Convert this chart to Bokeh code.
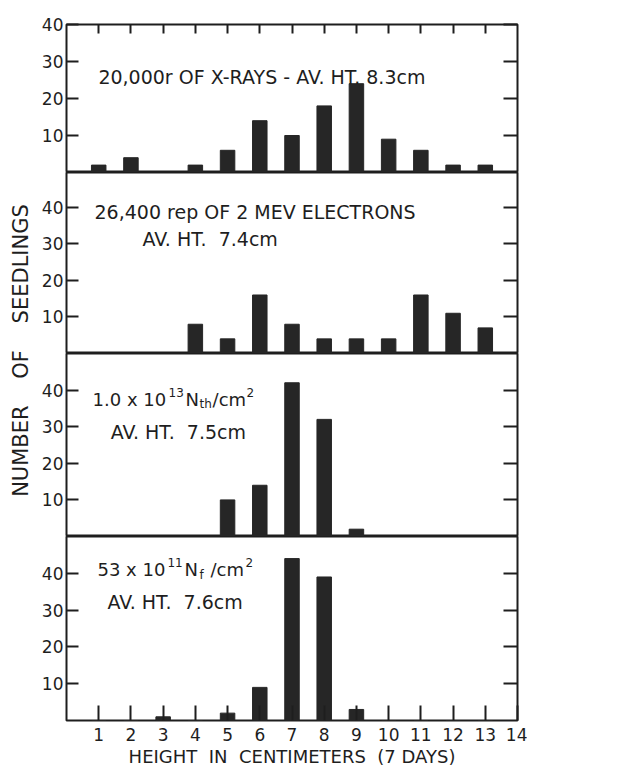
import math
from bokeh.plotting import figure
from bokeh.models import Range1d, LinearAxis, FixedTicker, Label
from bokeh.layouts import row, column
from bokeh.embed import file_html
from bokeh.resources import INLINE

# ---------------- data ----------------
heights = list(range(1, 14))
xray_counts = [2, 4, 0, 2, 6, 14, 10, 18, 24, 9, 6, 2, 2]
electron_counts = [0, 0, 0, 8, 4, 16, 8, 4, 4, 4, 16, 11, 7]
thermal_neutron_counts = [0, 0, 0, 0, 10, 14, 42, 32, 2, 0, 0, 0, 0]
fast_neutron_counts = [0, 0, 1, 0, 2, 9, 44, 39, 3, 0, 0, 0, 0]
x_ticks = list(range(1, 15))
x_tick_labels = [str(i) for i in x_ticks]
y_ticks = [10, 20, 30, 40]

INK = "#1e1e1e"
BAR = "#262626"
FONT = "DejaVu Sans"
x_range = Range1d(0, 14)


def tick_only_axis(ticks, tick_len):
    return LinearAxis(ticker=FixedTicker(ticks=ticks), major_tick_in=tick_len,
                      major_tick_out=0, minor_tick_line_color=None,
                      axis_line_color=None, major_tick_line_color=INK,
                      major_tick_line_width=2, major_label_text_color=None,
                      major_label_text_font_size="1px", major_label_standoff=0)


def make_panel(counts, y_end, frame_h, top_b, bottom_b, bottom_axis=False):
    p = figure(frame_width=451, frame_height=frame_h, x_range=x_range,
               y_range=Range1d(0, y_end), output_backend="svg",
               toolbar_location=None,
               x_axis_location="below" if bottom_axis else None,
               min_border_left=28, min_border_right=10,
               min_border_top=top_b, min_border_bottom=bottom_b,
               background_fill_color="white", border_fill_color="white",
               outline_line_color=INK, outline_line_width=2)
    p.xgrid.visible = False
    p.ygrid.visible = False
    p.vbar(x=heights, top=counts, width=0.45, fill_color=BAR, line_color=BAR)

    ya = p.yaxis[0]
    ya.ticker = FixedTicker(ticks=y_ticks)
    ya.major_tick_in = 12
    ya.major_tick_out = 0
    ya.minor_tick_line_color = None
    ya.axis_line_color = None
    ya.major_tick_line_color = INK
    ya.major_tick_line_width = 2
    ya.major_label_text_font = FONT
    ya.major_label_text_font_size = "17px"
    ya.major_label_text_color = INK
    ya.major_label_standoff = 3

    p.add_layout(tick_only_axis(y_ticks, 14), "right")

    if bottom_axis:
        xa = p.xaxis[0]
        xa.ticker = FixedTicker(ticks=x_ticks)
        xa.major_label_overrides = {t: l for t, l in zip(x_ticks, x_tick_labels)}
        xa.major_tick_in = 15
        xa.major_tick_out = 0
        xa.minor_tick_line_color = None
        xa.axis_line_color = None
        xa.major_tick_line_color = INK
        xa.major_tick_line_width = 2
        xa.major_label_text_font = FONT
        xa.major_label_text_font_size = "17px"
        xa.major_label_text_color = INK
        xa.major_label_standoff = 7
        xa.axis_label = "HEIGHT\u00a0\u00a0IN\u00a0\u00a0CENTIMETERS\u00a0\u00a0(7\u00a0DAYS)"
        xa.axis_label_text_font = FONT
        xa.axis_label_text_font_size = "18px"
        xa.axis_label_text_font_style = "normal"
        xa.axis_label_text_color = INK
        xa.axis_label_standoff = 2
    return p


def add_text(p, x, y, text, size=18, dx=0, dy=0):
    p.add_layout(Label(x=x, y=y, x_offset=dx, y_offset=dy, text=text,
                       text_font=FONT, text_font_size=f"{size}px",
                       text_color=INK, text_align="left",
                       text_baseline="alphabetic"))


# panel 1: X-rays
p1 = make_panel(xray_counts, 40, 148, 24, 0)
p1.add_layout(tick_only_axis(heights, 9), "above")
add_text(p1, 0.99, 25.7, "20,000r OF X-RAYS - AV. HT. 8.3cm", 19)

# panel 2: electrons
p2 = make_panel(electron_counts, 49.5, 181, 0, 0)
add_text(p2, 0.87, 38.6, "26,400 rep OF 2 MEV ELECTRONS", 19)
add_text(p2, 2.36, 31.2, "AV. HT.\u00a0\u00a07.4cm", 19)

# panel 3: thermal neutrons
p3 = make_panel(thermal_neutron_counts, 50, 183, 0, 0)
for txt, dx, dy, sz in [("1.0 x 10", 0, 0, 18), ("13", 76, 7, 12),
                        ("N", 93, 0, 18), ("th", 107, -4, 12),
                        ("/cm", 120, 0, 18), ("2", 154, 7, 12)]:
    add_text(p3, 0.81, 37.3, txt, sz, dx, dy)
add_text(p3, 1.37, 28.5, "AV. HT.\u00a0\u00a07.5cm", 19)

# panel 4: fast neutrons
p4 = make_panel(fast_neutron_counts, 50, 184, 0, 49, bottom_axis=True)
for txt, dx, dy, sz in [("53 x 10", 0, 0, 18), ("11", 70, 7, 12),
                        ("N", 87, 0, 18), ("f", 102, -5, 12),
                        ("/cm", 113, 0, 18), ("2", 148, 7, 12)]:
    add_text(p4, 0.96, 40.9, txt, sz, dx, dy)
add_text(p4, 1.27, 32.2, "AV. HT.\u00a0\u00a07.6cm", 19)

# shared y-axis title
ylab = figure(width=38, height=769, x_range=Range1d(0, 38),
              y_range=Range1d(0, 769), min_border=0, output_backend="svg",
              toolbar_location=None, outline_line_color=None,
              x_axis_location=None, y_axis_location=None,
              border_fill_color="white", background_fill_color="white")
ylab.xgrid.visible = False
ylab.ygrid.visible = False
ylab.add_layout(Label(x=20, y=419, angle=math.pi / 2,
                      text="NUMBER\u00a0\u00a0\u00a0\u00a0OF\u00a0\u00a0\u00a0\u00a0SEEDLINGS",
                      text_font=FONT, text_font_size="21px", text_color=INK,
                      text_align="center", text_baseline="middle"))

layout = row(ylab, column(p1, p2, p3, p4))
open("out.html", "w").write(file_html(layout, INLINE))
